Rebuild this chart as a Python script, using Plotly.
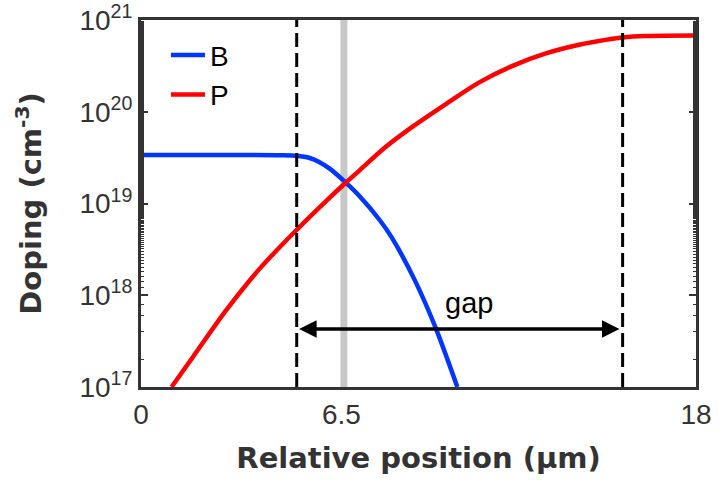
import numpy as np
import plotly.graph_objects as go

# ---- data ----
x_B = [0, 2.0, 3.53, 4.5, 5.05, 5.47, 5.79, 6.12, 6.60, 7.09, 7.74, 8.13, 8.87, 9.55, 10.26]
B = [3.38e19, 3.38e19, 3.38e19, 3.36e19, 3.31e19, 3.13e19, 2.82e19, 2.40e19, 1.74e19,
     1.20e19, 6.61e18, 4.27e18, 1.48e18, 4.47e17, 1.0e17]

x_P = [0.99, 1.69, 2.77, 3.85, 5.04, 6.01, 6.55, 7.09, 7.95, 8.82, 9.90, 10.97, 12.05,
       13.13, 14.21, 15.29, 15.62, 16.37, 18.0]
P = [1.0e17, 2.14e17, 6.92e17, 1.95e18, 5.13e18, 1.07e19, 1.58e19, 2.30e19, 4.17e19,
     6.92e19, 1.22e20, 2.09e20, 3.16e20, 4.32e20, 5.37e20, 6.24e20, 6.46e20, 6.68e20, 6.76e20]

gap_left = 5.05
gap_right = 15.62
cross_x = 6.58
arrow_level = 4.3e17
gap_label_pos = (10.65, 8.3e17)

x_tick_vals = [0, 6.5, 18]
x_tick_text = ["0", "6.5", "18"]
y_tick_vals = [1e17, 1e18, 1e19, 1e20, 1e21]
y_tick_text = ["10<sup>17</sup>", "10<sup>18</sup>", "10<sup>19</sup>", "10<sup>20</sup>", "10<sup>21</sup>"]

AX = "#333333"

fig = go.Figure()
fig.add_trace(go.Scatter(x=x_B, y=B, mode="lines", name="B", legendgroup="B",
                         line=dict(color="#0036ff", width=4.5, shape="spline", smoothing=0.8)))
fig.add_trace(go.Scatter(x=x_P, y=P, mode="lines", name="P", legendgroup="P",
                         line=dict(color="#ff0000", width=4.5, shape="spline", smoothing=0.9)))

# grey marker line at the crossing point
fig.add_shape(type="line", xref="x", yref="y domain", x0=cross_x, x1=cross_x, y0=0, y1=1,
              line=dict(color="#c8c8c8", width=7), layer="below")
# dashed boundaries
for xv in (gap_left, gap_right):
    fig.add_shape(type="line", xref="x", yref="y domain", x0=xv, x1=xv, y0=0, y1=1,
                  line=dict(color="black", width=3, dash="14px,6px"), layer="above")

# double arrow
fig.add_annotation(x=gap_right - 0.1, y=np.log10(arrow_level), ax=gap_left + 0.03, ay=np.log10(arrow_level),
                   xref="x", yref="y", axref="x", ayref="y", text="", showarrow=True,
                   arrowhead=2, startarrowhead=2, arrowside="end+start", arrowwidth=3.5,
                   arrowsize=1.0, startarrowsize=1.0, arrowcolor="black", standoff=0, startstandoff=0)
fig.add_annotation(x=gap_label_pos[0], y=np.log10(gap_label_pos[1]), xref="x", yref="y",
                   text="gap", showarrow=False,
                   font=dict(family="Liberation Sans, Arial", size=29, color="black"))

fig.update_layout(
    width=719, height=480,
    margin=dict(l=141, r=23, t=20, b=93),
    plot_bgcolor="white", paper_bgcolor="white",
    showlegend=True,
    legend=dict(x=0.045, y=0.972, xanchor="left", yanchor="top", bgcolor="rgba(0,0,0,0)",
                font=dict(family="Liberation Sans, Arial", size=28, color="black"),
                tracegroupgap=0, itemwidth=34),
    xaxis=dict(range=[0, 18], tickvals=x_tick_vals, ticktext=x_tick_text, ticks="",
               showgrid=False, zeroline=False, showline=True, linewidth=3, linecolor=AX, mirror=True,
               automargin=False,
               tickfont=dict(family="Liberation Sans, Arial", size=28, color=AX),
               ticklabelstandoff=0,
               title=dict(text="Relative position (µm)", standoff=20,
                          font=dict(family="DejaVu Sans", size=29, color=AX, weight="bold"))),
    yaxis=dict(type="log", range=[17, 21], tickvals=y_tick_vals, ticktext=y_tick_text,
               ticks="inside", ticklen=7, tickwidth=2, tickcolor=AX,
               minor=dict(ticks="inside", ticklen=3, tickwidth=1, tickcolor=AX, showgrid=False),
               showgrid=False, zeroline=False, showline=True, linewidth=3, linecolor=AX, mirror="ticks",
               automargin=False,
               tickfont=dict(family="Liberation Sans, Arial", size=28, color=AX),
               title=dict(text="Doping (cm<sup>-3</sup>)", standoff=30,
                          font=dict(family="DejaVu Sans", size=29, color=AX, weight="bold"))),
)

fig.write_html("out.html")
